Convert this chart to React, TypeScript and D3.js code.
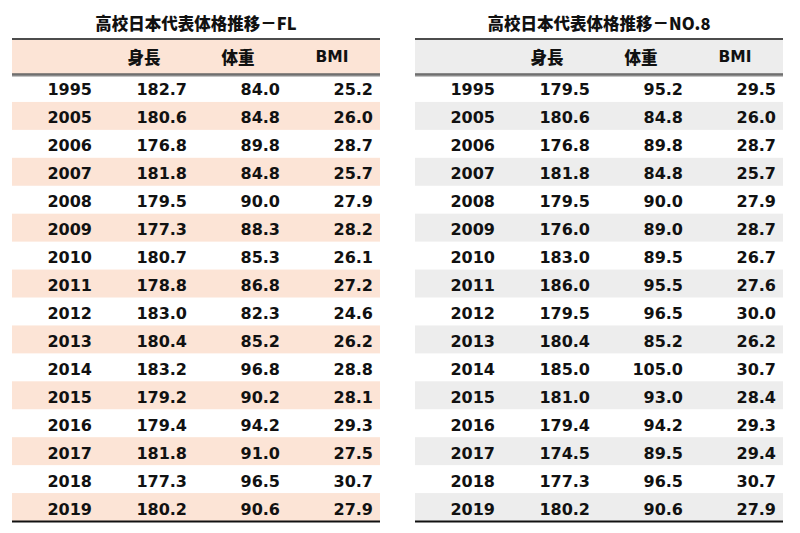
import React from "react";
import * as d3 from "d3";

const years = ["1995","2005","2006","2007","2008","2009","2010","2011","2012","2013","2014","2015","2016","2017","2018","2019"];
const headers = ["身長", "体重", "BMI"];

const flHeight = ["182.7","180.6","176.8","181.8","179.5","177.3","180.7","178.8","183.0","180.4","183.2","179.2","179.4","181.8","177.3","180.2"];
const flWeight = ["84.0","84.8","89.8","84.8","90.0","88.3","85.3","86.8","82.3","85.2","96.8","90.2","94.2","91.0","96.5","90.6"];
const flBmi = ["25.2","26.0","28.7","25.7","27.9","28.2","26.1","27.2","24.6","26.2","28.8","28.1","29.3","27.5","30.7","27.9"];

const n8Height = ["179.5","180.6","176.8","181.8","179.5","176.0","183.0","186.0","179.5","180.4","185.0","181.0","179.4","174.5","177.3","180.2"];
const n8Weight = ["95.2","84.8","89.8","84.8","90.0","89.0","89.5","95.5","96.5","85.2","105.0","93.0","94.2","89.5","96.5","90.6"];
const n8Bmi = ["29.5","26.0","28.7","25.7","27.9","28.7","26.7","27.6","30.0","26.2","30.7","28.4","29.3","29.4","30.7","27.9"];

const FONT = "'DejaVu Sans', Verdana, 'Noto Sans CJK JP', sans-serif";
const CJK = "'Noto Sans CJK JP', 'DejaVu Sans', sans-serif";

type TableProps = {
  x0: number;
  title: string;
  stripe: string;
  cols: string[][];
};

function Table({ x0, title, stripe, cols }: TableProps) {
  const width = 368;
  const y = d3.scaleBand<string>().domain(years).range([74, 521]).paddingInner(0);
  // column right edges relative to x0 (year, height, weight, bmi)
  const colRight = [80, 175, 268, 361];
  const headerCenter = [132, 226, 320];
  return (
    <g>
      <text x={x0 + 184} y={23} textAnchor="middle" dominantBaseline="central"
        fontFamily={CJK} fontWeight="900" fontSize={16.5} fill="#111">{title}</text>
      <rect x={x0} y={40} width={width} height={34} fill={stripe} />
      {years.map((yr, i) => i % 2 === 1 ? (
        <rect key={"s" + yr} x={x0} y={y(yr)!} width={width} height={y.bandwidth()} fill={stripe} />
      ) : null)}
      <line x1={x0} x2={x0 + width} y1={39} y2={39} stroke="#111" strokeWidth={1.6} />
      <line x1={x0} x2={x0 + width} y1={75} y2={75} stroke="#8a8a8a" strokeWidth={3} />
      <line x1={x0} x2={x0 + width} y1={74} y2={74} stroke="#555" strokeWidth={1} />
      <line x1={x0} x2={x0 + width} y1={521.5} y2={521.5} stroke="#111" strokeWidth={1.8} />
      {headers.map((h, i) => (
        <text key={h} x={x0 + headerCenter[i]} y={57} textAnchor="middle" dominantBaseline="central"
          fontFamily={h === "BMI" ? FONT : CJK} fontWeight={h === "BMI" ? "bold" : "900"} fontSize={h === "BMI" ? 15.5 : 16.5} fill="#111">{h}</text>
      ))}
      {years.map((yr, i) => {
        const cy = y(yr)! + y.bandwidth() / 2 + 2;
        const vals = [yr, cols[0][i], cols[1][i], cols[2][i]];
        return vals.map((v, j) => (
          <text key={yr + "-" + j} x={x0 + colRight[j]} y={cy} textAnchor="end" dominantBaseline="central"
            fontFamily={FONT} fontWeight="bold" fontSize={16} fill="#111">{v}</text>
        ));
      })}
    </g>
  );
}

export default function App() {
  return (
    <svg width={800} height={533} style={{ position: "absolute", left: 0, top: 0, background: "#fff" }}>
      <rect width={800} height={533} fill="#fff" />
      <Table x0={12} title="高校日本代表体格推移－FL" stripe="#fce4d6" cols={[flHeight, flWeight, flBmi]} />
      <Table x0={415} title="高校日本代表体格推移－NO.8" stripe="#ededed" cols={[n8Height, n8Weight, n8Bmi]} />
    </svg>
  );
}
